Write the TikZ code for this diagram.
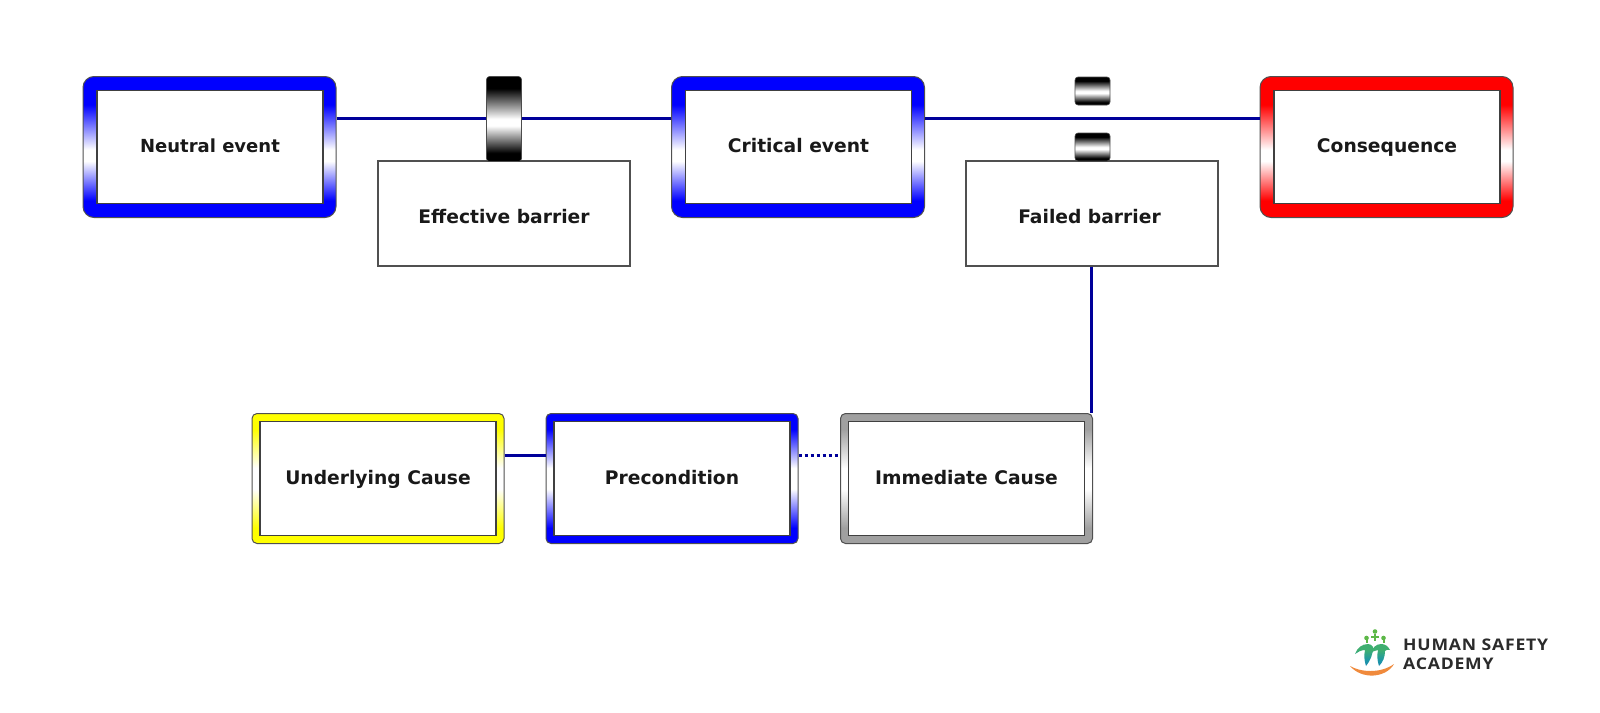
\documentclass[tikz,border=0pt]{standalone}
\usepackage{fontspec}
\setmainfont{DejaVu Sans}
\newfontfamily\logofont[FakeStretch=1.1,LetterSpace=5]{Open Sans}
\usetikzlibrary{calc}
\definecolor{bandgray}{HTML}{A0A0A0}
\definecolor{linkblue}{HTML}{00009A}
\definecolor{edgegray}{HTML}{505050}
\definecolor{logotext}{HTML}{2B2B2B}
\definecolor{logoorange}{HTML}{F08A3C}
\definecolor{logoteal}{HTML}{1C96A8}
\definecolor{logoblue}{HTML}{1A6FB5}
\definecolor{logogreen}{HTML}{5DB848}
\definecolor{logogreenb}{HTML}{3FAF70}
\pgfdeclareverticalshading{blueband}{100bp}{color(0bp)=(blue); color(31bp)=(blue); color(45bp)=(white); color(49bp)=(white); color(65bp)=(blue); color(100bp)=(blue)}
\pgfdeclareverticalshading{redband}{100bp}{color(0bp)=(red); color(31bp)=(red); color(45bp)=(white); color(49bp)=(white); color(65bp)=(red); color(100bp)=(red)}
\pgfdeclareverticalshading{blueshort}{100bp}{color(0bp)=(blue); color(31bp)=(blue); color(46bp)=(white); color(54bp)=(white); color(69bp)=(blue); color(100bp)=(blue)}
\pgfdeclareverticalshading{yellowshort}{100bp}{color(0bp)=(yellow); color(31bp)=(yellow); color(46bp)=(white); color(54bp)=(white); color(69bp)=(yellow); color(100bp)=(yellow)}
\pgfdeclareverticalshading{grayshort}{100bp}{color(0bp)=(bandgray); color(31bp)=(bandgray); color(46bp)=(white); color(54bp)=(white); color(69bp)=(bandgray); color(100bp)=(bandgray)}
\pgfdeclareverticalshading{barrierband}{100bp}{color(0bp)=(black); color(30bp)=(black); color(46bp)=(white); color(50bp)=(white); color(68bp)=(black); color(100bp)=(black)}
\pgfdeclareverticalshading{logoshade}{100bp}{color(0bp)=(logoblue); color(38bp)=(logoteal); color(62bp)=(logogreenb); color(100bp)=(logogreenb)}
\tikzset{
  x=1pt,y=-1pt,
  boxlabel/.style={font=\bfseries\fontsize{18.7}{20}\selectfont,text=black!90,text height=14pt,text depth=3pt},
  outerbig/.style={draw=edgegray,line width=1pt,rounded corners=11pt,minimum width=253pt,minimum height=141pt,inner sep=0pt},
  outersmall/.style={draw=edgegray,line width=1pt,rounded corners=5pt,minimum width=252pt,minimum height=130pt,inner sep=0pt},
  innerbig/.style={boxlabel,draw=black!75,line width=1.3pt,fill=white,minimum width=226pt,minimum height=113pt,inner sep=0pt},
  innersmall/.style={boxlabel,draw=black!75,line width=1.3pt,fill=white,minimum width=236pt,minimum height=114pt,inner sep=0pt},
  barrierbox/.style={draw=edgegray,line width=1.3pt,fill=white,minimum width=252pt,minimum height=105pt,inner sep=0pt},
  barrierpart/.style={draw=black!70,line width=.6pt,rounded corners=3pt,shading=barrierband,minimum width=35pt,inner sep=0pt},
  link/.style={draw=linkblue,line width=3pt},
  linkdotted/.style={draw=linkblue,line width=3pt,dash pattern=on 3pt off 3pt},
  logotxt/.style={font=\logofont\bfseries\fontsize{16}{18}\selectfont,text=logotext,anchor=base west,inner sep=0pt},
  logofig/.style={shading=logoshade,draw=none},
}
\begin{document}
\begin{tikzpicture}
\useasboundingbox (0,0) rectangle (1600,712);
\fill[white] (0,0) rectangle (1600,712);
\coordinate (upperline) at (0,118);
\coordinate (lowerline) at (0,455);
% top row
\node[outerbig,shading=blueband] (neutralO) at (209.5,147) {};
\node[innerbig,font=\bfseries\fontsize{18}{20}\selectfont] (neutral) at (210,147) {Neutral event};
\node[outerbig,shading=blueband] (criticalO) at (798,147) {};
\node[innerbig] (critical) at (798.5,147) {Critical event};
\node[outerbig,shading=redband] (consO) at (1386.5,147) {};
\node[innerbig] (cons) at (1387,147) {Consequence};
% barrier boxes
\node[barrierbox] (effective) at (504,213.5) {};
\node[boxlabel,inner sep=0pt] (effectiveT) at (504,217.5) {Effective barrier};
\node[barrierbox] (failed) at (1092,213.5) {};
\node[boxlabel,inner sep=0pt] (failedT) at (1089.5,217.5) {Failed barrier};
% lower row
\node[outersmall,shading=yellowshort] (underO) at (378,478.5) {};
\node[innersmall] (under) at (underO.center) {Underlying Cause};
\node[outersmall,shading=blueshort] (precO) at (672,478.5) {};
\node[innersmall] (prec) at (precO.center) {Precondition};
\node[outersmall,shading=grayshort] (immO) at (966.5,478.5) {};
\node[innersmall] (imm) at (immO.center) {Immediate Cause};
% connectors
\draw[link] (neutralO.east |- upperline) -- (criticalO.west |- upperline);
\draw[link] (criticalO.east |- upperline) -- (consO.west |- upperline);
\draw[link] (failed.south -| 1091,0) -- (immO.north -| 1091,0);
\draw[link] (underO.east |- lowerline) -- (precO.west |- lowerline);
\draw[linkdotted] (precO.east |- lowerline) -- (immO.west |- lowerline);
% barriers
\node[barrierpart,minimum height=85pt] (effbar) at (504,119) {};
\node[barrierpart,minimum height=28pt] (failbarA) at (1092.5,91) {};
\node[barrierpart,minimum height=28pt] (failbarB) at (1092.5,147) {};
% logo
\node[logotxt] (logoA) at (1403,650) {HUMAN SAFETY};
\node[logotxt] (logoB) at (1403,669.5) {ACADEMY};
\fill[logoorange] (1350,666) .. controls (1360,672) and (1380,674) .. (1394,664) .. controls (1386,678) and (1362,680) .. (1350,666) -- cycle;
\path[logofig] (1355,654) .. controls (1357,648) and (1362,644) .. (1368,644) .. controls (1370,644) and (1372,645) .. (1373,647) .. controls (1373,655) and (1370,661) .. (1366,666) .. controls (1364,660) and (1364,655) .. (1365,650) .. controls (1361,650) and (1358,652) .. (1355,654) -- cycle;
\path[logofig] (1370,654) .. controls (1372,648) and (1376,644) .. (1381,644) .. controls (1385,644) and (1388,646) .. (1390,650) .. controls (1388,649) and (1386,650) .. (1385,651) .. controls (1385,657) and (1383,662) .. (1379,666) .. controls (1377,660) and (1377,655) .. (1378,650) .. controls (1375,650) and (1372,652) .. (1370,654) -- cycle;
\fill[logogreen] (1375,631.5) circle (2.3) (1366.5,638) circle (2.3) (1383.5,638) circle (2.3);
\draw[logogreen,line width=2pt] (1375,634) -- (1375,641) (1371,637) -- (1379,637) (1366.5,640) -- (1366.5,643) (1383.5,640) -- (1383.5,643);
\end{tikzpicture}
\end{document}
